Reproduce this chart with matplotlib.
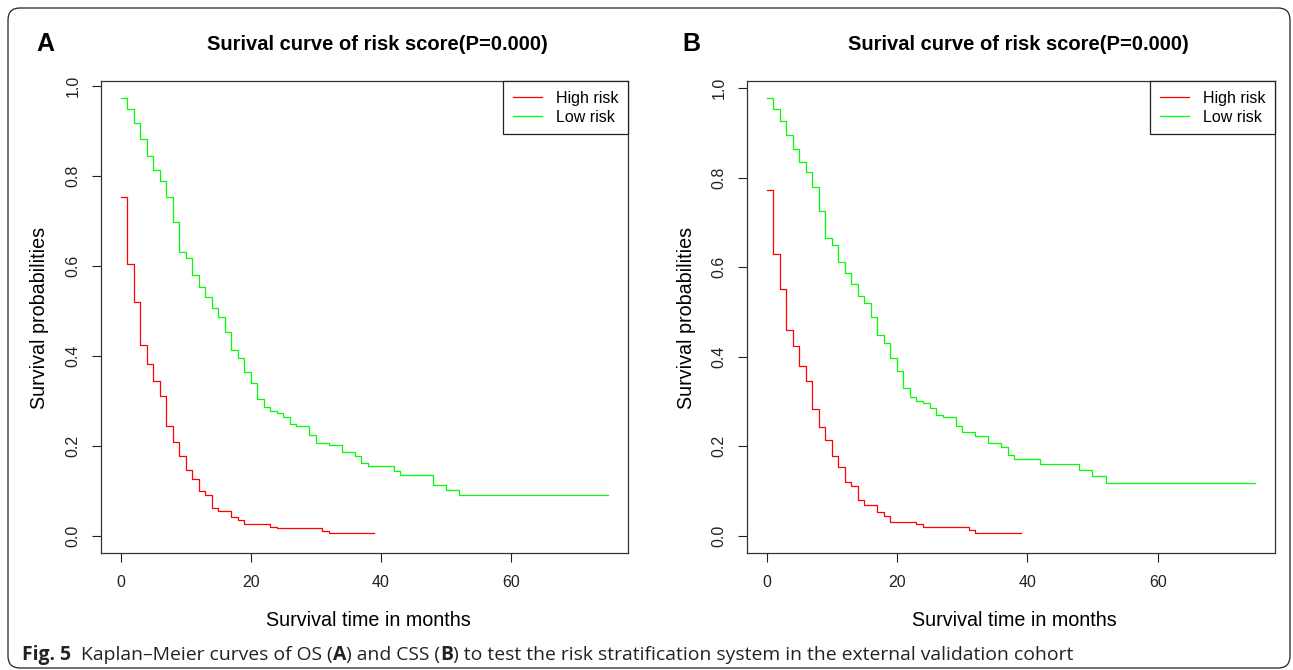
import matplotlib
matplotlib.use("Agg")
import matplotlib.pyplot as plt
from matplotlib.patches import FancyBboxPatch

# ---------------- data ----------------
# Panel A (OS)
a_high_t = [0, 1, 2, 3, 4, 5, 6, 7, 8, 9, 10, 11, 12, 13, 14, 15, 17, 18, 19, 23, 24, 31, 32, 39]
a_high_s = [0.754, 0.605, 0.519, 0.425, 0.382, 0.343, 0.311, 0.244, 0.209, 0.178, 0.146, 0.126,
            0.099, 0.091, 0.062, 0.054, 0.042, 0.034, 0.025, 0.020, 0.016, 0.011, 0.006, 0.006]
a_low_t = [0, 1, 2, 3, 4, 5, 6, 7, 8, 9, 10, 11, 12, 13, 14, 15, 16, 17, 18, 19, 20, 21, 22, 23,
           24, 25, 26, 27, 29, 30, 32, 34, 36, 37, 38, 42, 43, 48, 50, 52, 75]
a_low_s = [0.973, 0.949, 0.918, 0.882, 0.844, 0.813, 0.789, 0.754, 0.699, 0.632, 0.617, 0.581,
           0.554, 0.530, 0.506, 0.487, 0.454, 0.412, 0.395, 0.365, 0.339, 0.304, 0.286, 0.277,
           0.272, 0.263, 0.249, 0.243, 0.224, 0.207, 0.201, 0.186, 0.178, 0.161, 0.154, 0.144,
           0.134, 0.112, 0.101, 0.090, 0.090]
# Panel B (CSS)
b_high_t = [0, 1, 2, 3, 4, 5, 6, 7, 8, 9, 10, 11, 12, 13, 14, 15, 17, 18, 19, 23, 24, 31, 32, 39]
b_high_s = [0.773, 0.630, 0.551, 0.459, 0.424, 0.380, 0.345, 0.283, 0.242, 0.214, 0.177, 0.153,
            0.119, 0.110, 0.080, 0.069, 0.053, 0.043, 0.031, 0.025, 0.018, 0.012, 0.006, 0.006]
b_low_t = [0, 1, 2, 3, 4, 5, 6, 7, 8, 9, 10, 11, 12, 13, 14, 15, 16, 17, 18, 19, 20, 21, 22, 23,
           24, 25, 26, 27, 29, 30, 32, 34, 36, 37, 38, 42, 48, 50, 52, 75]
b_low_s = [0.977, 0.953, 0.926, 0.895, 0.863, 0.836, 0.812, 0.779, 0.726, 0.665, 0.649, 0.611,
           0.587, 0.562, 0.536, 0.519, 0.489, 0.448, 0.430, 0.397, 0.368, 0.330, 0.310, 0.301,
           0.296, 0.285, 0.269, 0.264, 0.244, 0.232, 0.223, 0.206, 0.199, 0.179, 0.171, 0.160,
           0.147, 0.132, 0.118, 0.118]

x_ticks = [0, 20, 40, 60]
y_ticks = [0.0, 0.2, 0.4, 0.6, 0.8, 1.0]
y_ticklabels = ["0.0", "0.2", "0.4", "0.6", "0.8", "1.0"]
series_labels = ["High risk", "Low risk"]
series_colors = ["#ff0000", "#00ff00"]
title_text = "Surival curve of risk score(P=0.000)"
xlabel_text = "Survival time in months"
ylabel_text = "Survival probabilities"
panel_letters = ["A", "B"]
caption_bold = "Fig. 5"
caption_rest = ("Kaplan\u2013Meier curves of OS (", "A", ") and CSS (", "B",
                ") to test the risk stratification system in the external validation cohort")

# ---------------- figure ----------------
W, H = 1293, 670
DPI = 100
plt.rcParams['font.family'] = ['Liberation Sans', 'DejaVu Sans']
fig = plt.figure(figsize=(W / DPI, H / DPI), dpi=DPI)

def px_ax(l, t, r, b):
    return [l / W, (H - b) / H, (r - l) / W, (b - t) / H]

panels = [
    dict(rect=px_ax(101, 81, 628, 553), data=[(a_high_t, a_high_s), (a_low_t, a_low_s)],
         title_x=377, letter_x=36, ylab_x=40, xlab_x=368),
    dict(rect=px_ax(747, 81, 1275, 553), data=[(b_high_t, b_high_s), (b_low_t, b_low_s)],
         title_x=1018, letter_x=682, ylab_x=686, xlab_x=1014),
]

for i, p in enumerate(panels):
    ax = fig.add_axes(p['rect'])
    for (t, s), lab, col in zip(p['data'], series_labels, series_colors):
        ax.step(t, s, where='post', color=col, lw=0.9, label=lab)
    smax = p['data'][1][1][0]
    ax.set_xlim(-3, 78)
    ax.set_ylim(-0.04 * smax, 1.04 * smax)
    ax.set_xticks(x_ticks)
    ax.set_xticklabels([str(v) for v in x_ticks])
    ax.set_yticks(y_ticks)
    ax.set_yticklabels(y_ticklabels, rotation=90, va='center')
    ax.tick_params(axis='both', direction='out', length=6.5, width=0.8,
                   labelsize=11.5, colors='#222222')
    ax.tick_params(axis='x', pad=9)
    ax.tick_params(axis='y', pad=8)
    for sp in ax.spines.values():
        sp.set_linewidth(0.9)
        sp.set_color('#333333')
    leg = ax.legend(loc='upper right', borderaxespad=0, fancybox=False, frameon=True,
                    edgecolor='#222222', framealpha=1, fontsize=11.5, handlelength=1.8,
                    handletextpad=0.9, borderpad=0.6, labelspacing=0.25)
    leg.get_frame().set_linewidth(0.9)
    # texts in pixel positions
    fig.text(p['title_x'] / W, (H - 45) / H, title_text, ha='center', va='center',
             fontsize=14.5, fontweight='bold')
    fig.text(p['letter_x'] / W, (H - 44) / H, panel_letters[i], ha='left', va='center',
             fontsize=18, fontweight='bold')
    fig.text(p['ylab_x'] / W, (H - 318) / H, ylabel_text, rotation=90, ha='center',
             va='center', fontsize=14.2)
    fig.text(p['xlab_x'] / W, (H - 620) / H, xlabel_text, ha='center', va='center',
             fontsize=14.2)

# rounded outer border (display pixel coords)
border = FancyBboxPatch((8, 2), 1282, 660, boxstyle="round,pad=0,rounding_size=12",
                        transform=None, fill=False, edgecolor='#222222', lw=0.9)
fig.patches.append(border)

# caption, fitted to width 22 -> 1077 px
renderer = fig.canvas.get_renderer()
cap_family = ['Open Sans', 'DejaVu Sans']

def draw_caption(fs):
    objs = []
    x = 22.0
    y = (H - 655) / H
    parts = [(caption_bold + "  ", 'bold')] + [
        (txt, 'bold' if txt in ("A", "B") else 'normal') for txt in caption_rest]
    for txt, wgt in parts:
        t = fig.text(x / W, y, txt, ha='left', va='center', fontsize=fs, fontweight=wgt,
                     family=cap_family, color='#222222')
        bb = t.get_window_extent(renderer)
        x += bb.width
        objs.append(t)
    return objs, x

objs, xend = draw_caption(11)
scale = (1077 - 22) / (xend - 22)
for o in objs:
    o.remove()
draw_caption(11 * scale)

fig.savefig("out.png", dpi=DPI)
